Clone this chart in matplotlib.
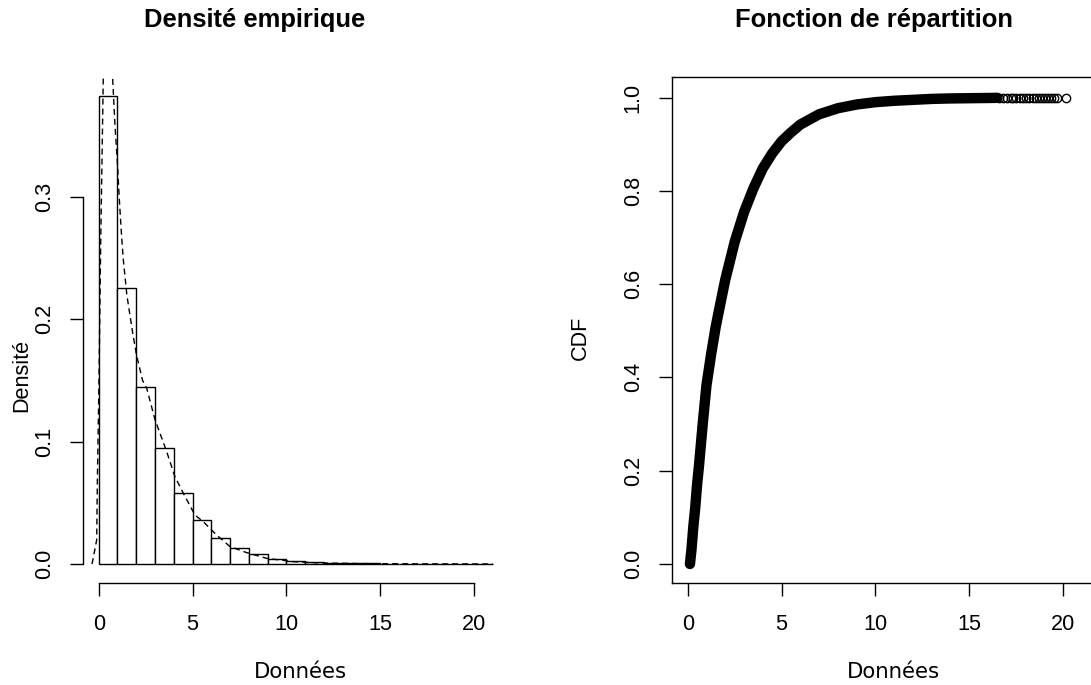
import matplotlib
matplotlib.use("Agg")
import matplotlib.pyplot as plt

# ---------------- data ----------------
bin_edges_left = list(range(0, 21))           # left edges of the width-1 bins
bin_density = [0.383, 0.226, 0.1445, 0.0946, 0.0578, 0.0362, 0.0215, 0.0133,
               0.0084, 0.0043, 0.0027, 0.0016, 0.0010, 0.0006, 0.0004, 0.0003,
               0.0002, 0.0001, 0.0001, 0.00005, 0.00005]

kde_x = [-0.37, -0.34, -0.107, -0.07, 0.016, 0.107, 0.245, 0.40, 0.55, 0.74, 0.87,
         0.99, 1.10, 1.22, 1.31, 1.50, 1.80, 2.00, 2.34, 2.56, 3.00, 3.62, 4.06,
         4.51, 5.13, 5.57, 6.28, 7.00, 7.88, 8.95, 10.37, 11.8, 14.0, 17.0, 21.0]
kde_y = [0.0, 0.001, 0.0196, 0.069, 0.150, 0.262, 0.398, 0.46, 0.47, 0.398, 0.358,
         0.330, 0.298, 0.268, 0.249, 0.220, 0.190, 0.172, 0.150, 0.1436, 0.118,
         0.092, 0.0714, 0.0578, 0.040, 0.0346, 0.0237, 0.0142, 0.0093, 0.0046,
         0.0019, 0.0008, 0.0003, 0.0001, 0.0]

ecdf_x = [0.12, 0.20, 0.30, 0.40, 0.50, 0.60, 0.80, 1.00, 1.25, 1.50, 1.75, 2.00,
          2.50, 3.00, 3.50, 4.00, 4.50, 5.00, 5.50, 6.00, 7.00, 8.00, 9.00, 10.0,
          11.0, 12.0, 13.0, 14.0, 15.0, 16.0, 16.5]
ecdf_y = [0.0, 0.03, 0.08, 0.12, 0.17, 0.21, 0.30, 0.383, 0.45, 0.51, 0.56, 0.609,
          0.69, 0.754, 0.805, 0.848, 0.880, 0.906, 0.925, 0.942, 0.964, 0.977,
          0.985, 0.990, 0.993, 0.995, 0.997, 0.998, 0.9985, 0.999, 0.9993]
tail_x = [16.6, 16.8, 17.0, 17.2, 17.35, 17.5, 17.7, 17.85, 18.0, 18.2, 18.4,
          18.55, 18.7, 18.9, 19.05, 19.2, 19.35, 19.5, 19.66, 20.16]
tail_y = [0.9994, 0.9995, 0.9995, 0.9996, 0.9996, 0.9997, 0.9997, 0.9997, 0.9998,
          0.9998, 0.9998, 0.9998, 0.9999, 0.9999, 0.9999, 0.9999, 0.9999, 0.9999,
          0.99995, 1.0]

x_ticks = [0, 5, 10, 15, 20]
left_y_ticks = [0.0, 0.1, 0.2, 0.3]
right_y_ticks = [0.0, 0.2, 0.4, 0.6, 0.8, 1.0]

# ---------------- figure ----------------
W, H = 1091, 685
DPI = 100
fig = plt.figure(figsize=(W / DPI, H / DPI), dpi=DPI)
SANS = ["Liberation Sans", "DejaVu Sans"]
plt.rcParams["font.family"] = SANS


def px_axes(x0, x1, y_top, y_bot):
    return fig.add_axes([x0 / W, 1 - y_bot / H, (x1 - x0) / W, (y_bot - y_top) / H])


tick_fs = 15.6
lw = 1.0

# ---- left: histogram ----
ax1 = px_axes(83, 508.6, 76.7, 583.3)
ax1.bar(bin_edges_left, bin_density, width=1.0, align="edge",
        facecolor="white", edgecolor="black", linewidth=lw)
ax1.plot(kde_x, kde_y, color="black", linestyle=(0, (4.3, 2.9)), linewidth=lw)
ax1.set_xlim(-0.836, 21.84)
ax1.set_ylim(-0.0158, 0.3984)
for s in ("top", "right"):
    ax1.spines[s].set_visible(False)
ax1.spines["bottom"].set_bounds(0, 20)
ax1.spines["left"].set_bounds(0, 0.3)
ax1.set_xticks(x_ticks)
ax1.set_xticklabels([str(v) for v in x_ticks])
ax1.set_yticks(left_y_ticks)
ax1.set_yticklabels(["%.1f" % v for v in left_y_ticks], rotation=90, va="center")

# ---- right: ECDF ----
ax2 = px_axes(671.7, 1097.4, 76.7, 583.3)
ax2.plot(ecdf_x, ecdf_y, color="black", linewidth=7.5, solid_capstyle="round",
         solid_joinstyle="round")
ax2.plot(tail_x, tail_y, linestyle="none", marker="o", markersize=6.0,
         markerfacecolor="none", markeredgecolor="black", markeredgewidth=1.0)
ax2.set_xlim(-0.852, 21.83)
ax2.set_ylim(-0.0414, 1.0446)
ax2.set_xticks(x_ticks)
ax2.set_xticklabels([str(v) for v in x_ticks])
ax2.set_yticks(right_y_ticks)
ax2.set_yticklabels(["%.1f" % v for v in right_y_ticks], rotation=90, va="center")

for ax in (ax1, ax2):
    for s in ax.spines.values():
        s.set_linewidth(lw)
    ax.tick_params(axis="both", length=9.6, width=lw, labelsize=tick_fs,
                   color="black")
    ax.tick_params(axis="x", pad=12.6)
    ax.tick_params(axis="y", pad=10.6)
    for lab in ax.get_xticklabels() + ax.get_yticklabels():
        lab.set_family(SANS)

# ---- titles and axis labels ----
fig.text(255 / W, 1 - 27.3 / H, "Densité empirique", ha="center", va="baseline",
         fontsize=18.4, fontweight="bold", family=SANS)
fig.text(874 / W, 1 - 27.3 / H, "Fonction de répartition", ha="center",
         va="baseline", fontsize=18.4, fontweight="bold", family=SANS)
fig.text(300 / W, 1 - 678 / H, "Données", ha="center", va="baseline",
         fontsize=15.3, family=["DejaVu Sans"])
fig.text(893 / W, 1 - 678 / H, "Données", ha="center", va="baseline",
         fontsize=15.3, family=["DejaVu Sans"])
fig.text(22 / W, 1 - 375 / H, "Densité", ha="center", va="center", rotation=90,
         fontsize=15.6, family=SANS)
fig.text(580 / W, 1 - 338 / H, "CDF", ha="center", va="center", rotation=90,
         fontsize=15.6, family=SANS)

fig.savefig("out.png", dpi=DPI, facecolor="white")
